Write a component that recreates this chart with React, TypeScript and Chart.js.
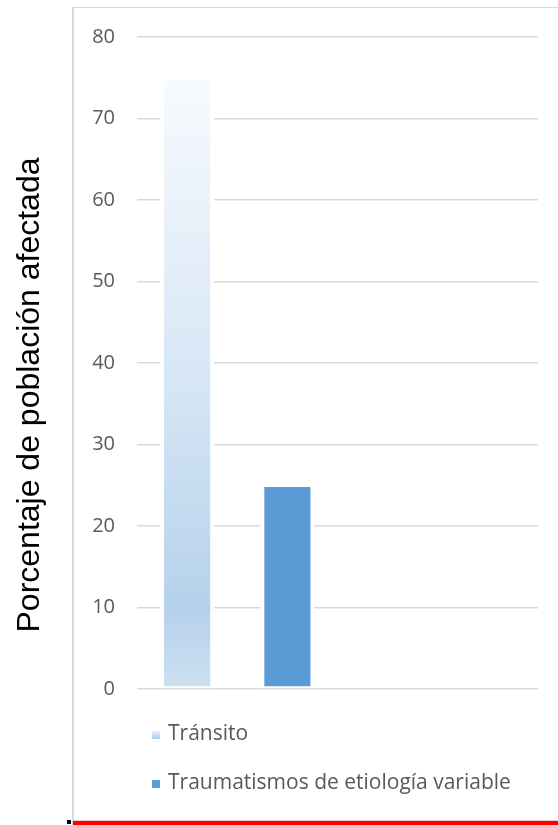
import React, { useEffect, useRef } from "react";
import { Chart, registerables } from "chart.js";

Chart.register(...registerables);

const categories = ["Tránsito", "Traumatismos de etiología variable", "", ""];
const seriesNames = ["Tránsito", "Traumatismos de etiología variable"];
const transitoValues = [74.7, null, null, null];
const traumatismosValues = [null, 24.8, null, null];
const yTicks = [0, 10, 20, 30, 40, 50, 60, 70, 80];
const yTitle = "Porcentaje de población afectada";

const SOLID_BLUE = "#5B9BD5";
const TEXT_GRAY = "#595959";

function gradientFill(context: any) {
  const chart = context.chart;
  const yScale = chart.scales && chart.scales.y;
  const v = context.raw;
  if (!chart.chartArea || !yScale || v == null) return "#C9DDF1";
  const top = yScale.getPixelForValue(v);
  const bottom = yScale.getPixelForValue(0);
  const g = chart.ctx.createLinearGradient(0, top, 0, bottom);
  g.addColorStop(0, "#F7FAFE");
  g.addColorStop(0.5, "#D6E6F5");
  g.addColorStop(0.87, "#B5D1EB");
  g.addColorStop(1, "#CEE0F2");
  return g;
}

export default function App() {
  const canvasRef = useRef<HTMLCanvasElement | null>(null);

  useEffect(() => {
    const canvas = canvasRef.current;
    if (!canvas) return;
    const chart = new Chart(canvas, {
      type: "bar",
      data: {
        labels: categories,
        datasets: [
          {
            label: seriesNames[0],
            data: transitoValues,
            backgroundColor: gradientFill,
            borderColor: "#FFFFFF",
            borderWidth: { left: 4, right: 4, top: 0, bottom: 2 },
            borderSkipped: false,
          },
          {
            label: seriesNames[1],
            data: traumatismosValues,
            backgroundColor: SOLID_BLUE,
            borderColor: "#FFFFFF",
            borderWidth: { left: 4, right: 4, top: 0, bottom: 2 },
            borderSkipped: false,
          },
        ],
      },
      options: {
        responsive: false,
        animation: false,
        devicePixelRatio: 1,
        layout: { padding: { left: 11, top: 37, right: 20, bottom: 136 } },
        datasets: {
          bar: { grouped: false, barPercentage: 0.54, categoryPercentage: 1 },
        },
        plugins: {
          legend: { display: false },
          tooltip: { enabled: false },
        },
        scales: {
          x: { display: false },
          y: {
            min: 0,
            max: 80,
            afterBuildTicks: (scale: any) => {
              scale.ticks = yTicks.map((v) => ({ value: v }));
            },
            afterFit: (scale: any) => {
              scale.width = 126;
            },
            border: { display: false },
            grid: { color: "#D9D9D9", lineWidth: 1.5, drawTicks: false },
            ticks: {
              color: TEXT_GRAY,
              font: { family: "'Open Sans'", size: 20 },
              padding: 22,
            },
            title: { display: false, text: yTitle },
          },
        },
      },
    });
    return () => chart.destroy();
  }, []);

  const legendText: React.CSSProperties = {
    position: "absolute",
    left: 168,
    fontFamily: "'Open Sans'",
    fontSize: 21,
    lineHeight: "21px",
    color: TEXT_GRAY,
    whiteSpace: "nowrap",
  };

  return (
    <div style={{ position: "absolute", left: 0, top: 0, width: 558, height: 825, overflow: "hidden", background: "#fff" }}>
      <div
        style={{
          position: "absolute",
          left: 72,
          top: 7,
          width: 500,
          height: 820,
          borderLeft: "2px solid #D9D9D9",
          borderTop: "1.5px solid #D9D9D9",
          boxSizing: "border-box",
        }}
      />
      <canvas
        ref={canvasRef}
        width={558}
        height={825}
        style={{ position: "absolute", left: 0, top: 0, width: 558, height: 825 }}
      />
      <div
        style={{
          position: "absolute",
          left: 28 - 300,
          top: 395 - 18,
          width: 600,
          height: 36,
          lineHeight: "36px",
          textAlign: "center",
          fontFamily: "Arial, 'Liberation Sans'",
          fontSize: 32,
          color: "#000",
          whiteSpace: "nowrap",
          transform: "rotate(-90deg)",
        }}
      >
        {yTitle}
      </div>
      <div style={{ position: "absolute", left: 152, top: 731, width: 8, height: 8, background: "linear-gradient(#E8F1FA, #A9CAE8)" }} />
      <div style={{ ...legendText, top: 722 }}>{seriesNames[0]}</div>
      <div style={{ position: "absolute", left: 152, top: 780, width: 8, height: 8, background: SOLID_BLUE }} />
      <div style={{ ...legendText, top: 771 }}>{seriesNames[1]}</div>
      <div style={{ position: "absolute", left: 73, top: 820, width: 485, height: 1, background: "#E6C8C8" }} />
      <div style={{ position: "absolute", left: 73, top: 821, width: 485, height: 4, background: "#FF0000" }} />
      <div style={{ position: "absolute", left: 67, top: 820, width: 4, height: 4, background: "#000" }} />
    </div>
  );
}
